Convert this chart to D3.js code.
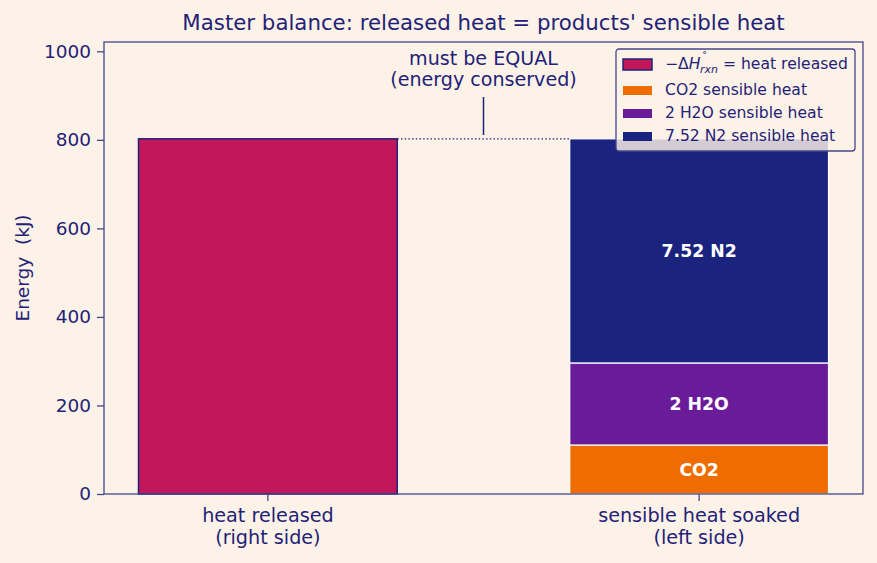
<!DOCTYPE html>
<html><head><meta charset="utf-8">
<script src="https://cdn.jsdelivr.net/npm/d3@7"></script>
<style>body{margin:0;background:#fdf2e8;}svg{display:block;font-family:"DejaVu Sans",sans-serif;}</style>
</head><body>
<script>
const categories = ["heat released\n(right side)", "sensible heat soaked\n(left side)"];
const heatReleased = 802.3;
const components = ["CO2", "2 H2O", "7.52 N2"];
const componentValues = [110.7, 185.3, 506.3];
const legendLabels = ["CO2 sensible heat", "2 H2O sensible heat", "7.52 N2 sensible heat"];
const yTicks = [0, 200, 400, 600, 800, 1000];

const W = 877, H = 563;
const m = {l:104, r:14, t:42, b:69};
const ink = "#1f2277";
const spine = "#45458a";
const colors = {released:"#c2185b", CO2:"#ef6c00", "2 H2O":"#6a1b9a", "7.52 N2":"#1a237e"};

const svg = d3.select("body").append("svg").attr("width", W).attr("height", H);
svg.append("rect").attr("width", W).attr("height", H).attr("fill", "#fdf2e8");

const x = d3.scaleLinear().domain([-0.38, 1.38]).range([m.l, W - m.r]);
const y = d3.scaleLinear().domain([0, 1021]).range([H - m.b, m.t]);
const bw = 0.6;

// left bar
svg.append("rect").attr("x", x(0 - bw/2)).attr("width", x(bw/2) - x(-bw/2))
  .attr("y", y(heatReleased)).attr("height", y(0) - y(heatReleased))
  .attr("fill", colors.released).attr("stroke", ink).attr("stroke-width", 1.5);

// stacked bar
let cum = 0;
components.forEach((c, i) => {
  const v = componentValues[i];
  const y0 = cum, y1 = cum + v; cum = y1;
  svg.append("rect").attr("x", x(1 - bw/2)).attr("width", x(1 + bw/2) - x(1 - bw/2))
    .attr("y", y(y1)).attr("height", y(y0) - y(y1))
    .attr("fill", colors[c]).attr("stroke", "#ffffff").attr("stroke-width", 1.2);
  svg.append("text").attr("x", x(1)).attr("y", y((y0 + y1)/2)).attr("dy", "0.36em")
    .attr("text-anchor", "middle").attr("fill", "#ffffff").attr("font-weight", "bold")
    .attr("font-size", 17.3).text(c);
});

// dotted equality line
svg.append("line").attr("x1", x(bw/2)).attr("x2", x(1 - bw/2))
  .attr("y1", y(heatReleased)).attr("y2", y(heatReleased))
  .attr("stroke", ink).attr("stroke-width", 1.3).attr("stroke-dasharray", "1.5,2.2");
// annotation
const xm = x(0.5);
svg.append("line").attr("x1", xm).attr("x2", xm).attr("y1", 135).attr("y2", 97)
  .attr("stroke", ink).attr("stroke-width", 1.5);
svg.append("text").attr("x", xm).attr("y", 65).attr("text-anchor", "middle").attr("fill", ink)
  .attr("font-size", 19.1).text("must be EQUAL");
svg.append("text").attr("x", xm).attr("y", 86).attr("text-anchor", "middle").attr("fill", ink)
  .attr("font-size", 19.1).text("(energy conserved)");

// frame
svg.append("rect").attr("x", m.l).attr("y", m.t).attr("width", W - m.l - m.r).attr("height", H - m.t - m.b)
  .attr("fill", "none").attr("stroke", spine).attr("stroke-width", 1.3);

// y axis
const yAxis = svg.append("g").attr("transform", `translate(${m.l},0)`)
  .call(d3.axisLeft(y).tickValues(yTicks).tickFormat(d3.format("d")).tickSize(7).tickPadding(6));
yAxis.select(".domain").remove();
yAxis.selectAll("line").attr("stroke", spine).attr("stroke-width", 1.3);
yAxis.selectAll("text").attr("fill", ink).attr("font-size", 18.5).attr("font-family", "DejaVu Sans");

// x axis
const xg = svg.append("g");
categories.forEach((c, i) => {
  xg.append("line").attr("x1", x(i)).attr("x2", x(i)).attr("y1", H - m.b).attr("y2", H - m.b + 7)
    .attr("stroke", spine).attr("stroke-width", 1.3);
  c.split("\n").forEach((ln, j) => {
    xg.append("text").attr("x", x(i)).attr("y", 522 + j * 22).attr("text-anchor", "middle")
      .attr("fill", ink).attr("font-size", 19.2).text(ln);
  });
});

// y label
svg.append("text").attr("transform", `translate(29,${(m.t + H - m.b)/2}) rotate(-90)`)
  .attr("text-anchor", "middle").attr("fill", ink).attr("font-size", 18.5).attr("xml:space", "preserve")
  .text("Energy  (kJ)");

// title
svg.append("text").attr("x", (m.l + W - m.r)/2).attr("y", 30).attr("text-anchor", "middle")
  .attr("fill", ink).attr("font-size", 21.3).text("Master balance: released heat = products' sensible heat");

// legend
const lg = svg.append("g").attr("transform", "translate(616,49)");
lg.append("rect").attr("width", 239).attr("height", 102).attr("rx", 3)
  .attr("fill", "#fdf2e8").attr("fill-opacity", 0.82).attr("stroke", spine).attr("stroke-width", 1.3);
const rows = [15, 41, 64, 87];
const fs = 15.6;
lg.append("rect").attr("x", 7).attr("y", rows[0] - 5).attr("width", 29).attr("height", 11)
  .attr("fill", colors.released).attr("stroke", ink).attr("stroke-width", 1.5);
// -ΔH°rxn label
const tA = lg.append("text").attr("x", 49).attr("y", rows[0]).attr("dy", "0.35em").attr("fill", ink).attr("font-size", fs);
tA.append("tspan").text("\u2212\u0394");
tA.append("tspan").attr("font-style", "italic").text("H");
const wA = tA.node().getComputedTextLength();
const sx = 49 + wA + 0.5;
lg.append("text").attr("x", sx + 1).attr("y", rows[0] - 4).attr("fill", ink).attr("font-size", 10.5).text("\u02da");
const sub = lg.append("text").attr("x", sx - 1).attr("y", rows[0] + 9).attr("fill", ink)
  .attr("font-size", 11).attr("font-style", "italic").text("rxn");
const wS = sub.node().getComputedTextLength();
lg.append("text").attr("x", sx - 1 + wS).attr("y", rows[0]).attr("dy", "0.35em").attr("fill", ink)
  .attr("font-size", fs).attr("xml:space", "preserve").text(" = heat released");
components.forEach((c, i) => {
  lg.append("rect").attr("x", 7).attr("y", rows[i+1] - 4).attr("width", 29).attr("height", 9).attr("fill", colors[c]);
  lg.append("text").attr("x", 49).attr("y", rows[i+1]).attr("dy", "0.35em").attr("fill", ink)
    .attr("font-size", fs).text(legendLabels[i]);
});
</script>
</body></html>
